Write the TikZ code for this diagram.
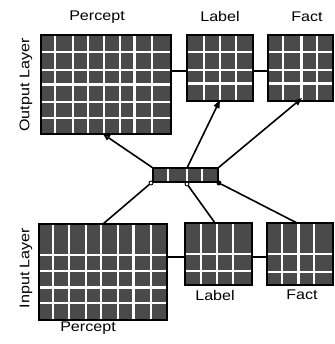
\documentclass[tikz,border=0pt]{standalone}
\usepackage{fontspec}
\setmainfont{Liberation Sans}
\usetikzlibrary{arrows.meta}
\tikzset{
  cellbox/.style={inner sep=0pt, outer sep=0pt, anchor=north west, fill={rgb,255:red,74;green,74;blue,74}},
  rim/.style={draw=black, line width=1.8pt},
  gap/.style={draw=white, line width=2pt},
  widegap/.style={draw=white, line width=3pt},
  link/.style={draw=black, line width=1.6pt},
  lbl/.style={font=\fontsize{14}{14}\selectfont, inner sep=0pt},
  joint/.style={circle, draw=black, fill=white, line width=0.9pt, minimum size=4pt, inner sep=0pt}
}
% wide lettering for the captions
\newcommand{\wide}[1]{\scalebox{1.15}[1]{#1}}
% a grid box: name, left, top, right, bottom, thin columns, wide columns, thin rows, wide rows
\newcommand{\gridbox}[9]{%
  \node[cellbox, minimum width={(#4-#2)*1pt}, minimum height={(#5-#3)*1pt}] (#1) at (#2,#3) {};
  \foreach \c in {#6} {\draw[gap] (\c,#3) -- (\c,#5);}
  \foreach \c in {#7} {\draw[widegap] (\c,#3) -- (\c,#5);}
  \foreach \r in {#8} {\draw[gap] (#2,\r) -- (#4,\r);}
  \foreach \r in {#9} {\draw[widegap] (#2,\r) -- (#4,\r);}
  \draw[rim] (#1.north west) rectangle (#1.south east);
}
\begin{document}
\begin{tikzpicture}[x=1pt, y=-1pt]
\useasboundingbox (0,0) rectangle (334,344);

% output layer
\gridbox{op}{41}{35}{171}{134}{55,73,88,104,120,152}{134}{52,70,102,118}{85}
\gridbox{ol}{187}{35}{253}{101}{204,220,236}{}{52,70}{84}
\gridbox{of}{268}{35}{333}{101}{283,317}{301}{52,70}{84}

% input layer
\gridbox{ip}{39}{224}{167}{320}{53,69,86,101,118,151}{133}{255,271,303}{287}
\gridbox{il}{185}{223}{252}{285}{201,217,233}{}{254,271}{}
\gridbox{if}{267}{223}{333}{285}{282,314}{298}{254,272}{}

% hidden unit strip
\gridbox{hd}{153}{168}{218}{182}{168,187,202}{}{}{}

% lateral links within each layer
\draw[link] (op.east |- 0,71) -- (ol.west |- 0,71);
\draw[link] (ol.east |- 0,71) -- (of.west |- 0,71);
\draw[link] (ip.east |- 0,257) -- (il.west |- 0,257);
\draw[link] (il.east |- 0,257) -- (if.west |- 0,257);

% hidden strip to output layer
\coordinate (hdmid) at (187,168);
\coordinate (opin) at (103,134);
\coordinate (olin) at (220,100);
\coordinate (ofin) at (302,98);
\draw[link, -{Triangle[open, length=7pt, width=6pt, fill=white]}] (hd.north west) -- (opin);
\draw[link, -{Triangle[length=8pt, width=6pt]}] (hdmid) -- (olin);
\draw[link, -{Triangle[length=8pt, width=6pt]}] (hd.north east) -- (ofin);

% input layer to hidden strip
\node[joint] (j1) at (151,183) {};
\node[joint] (j2) at (187,184) {};
\node[joint, fill=black] (j3) at (219,183) {};
\coordinate (ipout) at (103,224);
\coordinate (ilout) at (215,223);
\coordinate (ifout) at (297,223);
\draw[link] (ipout) -- (j1);
\draw[link] (ilout) -- (j2);
\draw[link] (ifout) -- (j3);

% captions
\node[lbl] (t1) at (97,17) {\wide{Percept}};
\node[lbl] (t2) at (220,17) {\wide{Label}};
\node[lbl] (t3) at (307,17) {\wide{Fact}};
\node[lbl, rotate=90] (t4) at (26,85) {\wide{Output Layer}};
\node[lbl, rotate=90] (t5) at (26,268) {\wide{Input Layer}};
\node[lbl] (t6) at (215,295) {\wide{Label}};
\node[lbl] (t7) at (302,295) {\wide{Fact}};
\node[lbl] (t8) at (88,328) {\wide{Percept}};
\end{tikzpicture}
\end{document}
